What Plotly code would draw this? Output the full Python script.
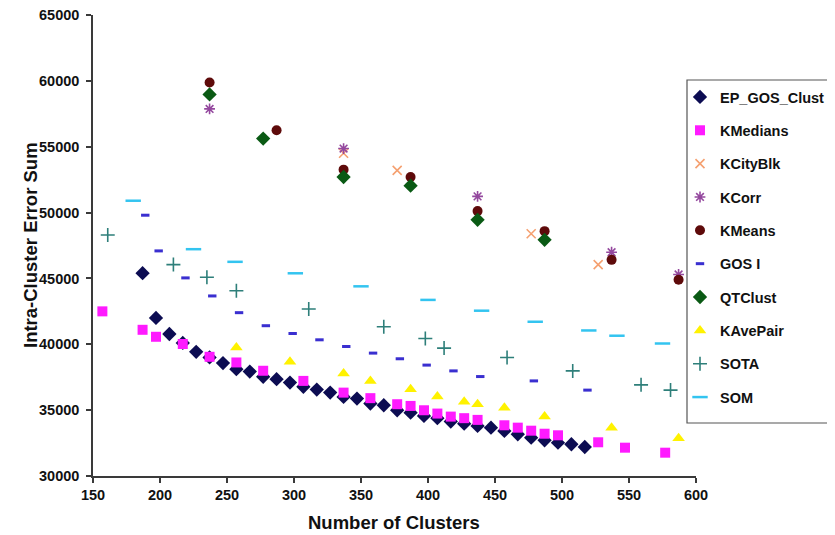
import plotly.graph_objects as go

# ---------------- data ----------------
ep_x = [187, 197, 207, 217, 227, 237, 247, 257, 267, 277, 287, 297, 307, 317, 327, 337, 347,
        357, 367, 377, 387, 397, 407, 417, 427, 437, 447, 457, 467, 477, 487, 497, 507, 517]
ep_y = [45400, 42000, 40780, 40100, 39430, 39000, 38570, 38110, 37930, 37530, 37350, 37090,
        36770, 36560, 36330, 36000, 35880, 35500, 35370, 34990, 34810, 34560, 34390, 34130,
        33970, 33800, 33670, 33420, 33170, 32910, 32710, 32530, 32410, 32200]

kmed_x = [157, 187, 197, 217, 237, 257, 277, 307, 337, 357, 377, 387, 397, 407, 417, 427,
          437, 457, 467, 477, 487, 497, 527, 547, 577]
kmed_y = [42500, 41100, 40570, 40020, 39050, 38620, 37990, 37220, 36330, 35910, 35450, 35320,
          34990, 34740, 34510, 34390, 34260, 33850, 33670, 33440, 33210, 33090, 32560, 32150, 31770]

kcity_x = [337, 377, 477, 527]
kcity_y = [54500, 53200, 48390, 46050]

kcorr_x = [237, 337, 437, 537, 587]
kcorr_y = [57870, 54860, 51230, 46990, 45300]

kmeans_x = [237, 287, 337, 387, 437, 487, 537, 587]
kmeans_y = [59880, 56250, 53260, 52700, 50110, 48590, 46410, 44900]

gos_x = [189, 199, 219, 239, 259, 279, 299, 319, 339, 359, 379, 399, 419, 439, 479, 519]
gos_y = [49800, 47090, 45040, 43670, 42400, 41410, 40820, 40340, 39830, 39330, 38900, 38420,
         37980, 37550, 37220, 36520]

qt_x = [237, 277, 337, 387, 437, 487]
qt_y = [58970, 55620, 52700, 52040, 49450, 47930]

kave_x = [257, 297, 337, 357, 387, 407, 427, 437, 457, 487, 537, 587]
kave_y = [39760, 38670, 37780, 37220, 36590, 36030, 35630, 35450, 35190, 34510, 33670, 32860]

sota_x = [161, 210, 235, 257, 311, 367, 398, 412, 459, 508, 559, 581]
sota_y = [48300, 46050, 45090, 44070, 42680, 41330, 40440, 39710, 39000, 37980, 36920, 36520]

som_x = [180, 225, 256, 301, 350, 400, 440, 480, 520, 541, 575]
som_y = [50900, 47220, 46260, 45390, 44400, 43370, 42550, 41710, 41050, 40650, 40060]

x_ticks = [150, 200, 250, 300, 350, 400, 450, 500, 550, 600]
y_ticks = [30000, 35000, 40000, 45000, 50000, 55000, 60000, 65000]

# ---------------- figure ----------------
FONT = "Arial, Liberation Sans, sans-serif"
fig = go.Figure()

def add(name, xs, ys, symbol, color, size, lw=0, lcolor=None):
    marker = dict(symbol=symbol, size=size, color=color)
    if lw:
        marker["line"] = dict(width=lw, color=lcolor or color)
    else:
        marker["line"] = dict(width=0)
    fig.add_trace(go.Scatter(x=xs, y=ys, mode="markers", name=name,
                             legendgroup=name, marker=marker))

add("EP_GOS_Clust", ep_x, ep_y, "diamond", "#0c0c52", 11)
add("KMedians", kmed_x, kmed_y, "square", "#ff1aff", 10)
add("KCityBlk", kcity_x, kcity_y, "x-thin-open", "#f5a070", 9, 1.6)
add("KCorr", kcorr_x, kcorr_y, "asterisk-open", "#94489e", 9, 1.6)
add("KMeans", kmeans_x, kmeans_y, "circle", "#5e0a0a", 10)
add("GOS I", gos_x, gos_y, "line-ew-open", "#3a2fd0", 6, 3)
add("QTClust", qt_x, qt_y, "diamond", "#0a5a14", 11)
add("KAvePair", kave_x, kave_y, "triangle-up", "#fff200", 11)
add("SOTA", sota_x, sota_y, "cross-thin-open", "#2e7f7a", 10, 1.6)
add("SOM", som_x, som_y, "line-ew-open", "#33c4f0", 11, 2.5)

axis_common = dict(
    showgrid=False, zeroline=False, showline=True, linecolor="#3a3a3a", linewidth=1.5,
    ticks="outside", ticklen=5, tickwidth=1.5, tickcolor="#3a3a3a",
    ticklabeloverflow="allow",
    tickfont=dict(family=FONT, size=14.5, color="#111111", weight="bold"),
)

fig.update_xaxes(range=[150, 600], tickvals=x_ticks, ticktext=[str(v) for v in x_ticks],
                 **axis_common)
fig.update_yaxes(range=[30000, 65000], tickvals=y_ticks, ticktext=[str(v) for v in y_ticks],
                 ticklabelstandoff=4, **axis_common)

# the page body adds an 8px offset; work in figure coordinates
OFF = 8
W, H = 835 - OFF, 535 - OFF
L, T = 93 - OFF, 15 - OFF
R = W - (696 - OFF)
B = H - (476 - OFF)
pw, ph = W - L - R, H - T - B

def px(xs):  # screen pixel -> paper x
    return (xs - OFF - L) / pw

def py(ys):  # screen pixel -> paper y
    return (H - B - (ys - OFF)) / ph

fig.update_layout(
    width=W, height=H,
    margin=dict(l=L, r=R, t=T, b=B, autoexpand=False),
    paper_bgcolor="white", plot_bgcolor="white",
    showlegend=True,
    legend=dict(
        x=px(680), y=py(81), xanchor="left", yanchor="top",
        bgcolor="rgba(0,0,0,0)", borderwidth=0,
        font=dict(family=FONT, size=14.5, color="#111111", weight="bold"),
        tracegroupgap=11.5, itemwidth=30,
    ),
    shapes=[dict(type="rect", xref="paper", yref="paper",
                 x0=px(687), x1=px(838), y0=py(423), y1=py(80),
                 line=dict(color="#555555", width=1.2), fillcolor="white", layer="below")],
    annotations=[
        dict(text="<b>Number of Clusters</b>", xref="paper", yref="paper",
             x=px(394), y=py(522), xanchor="center", yanchor="middle", showarrow=False,
             font=dict(family=FONT, size=18.5, color="#111111")),
        dict(text="<b>Intra-Cluster Error Sum</b>", xref="paper", yref="paper",
             x=px(30), y=py(245), xanchor="center", yanchor="middle", showarrow=False,
             textangle=-90, font=dict(family=FONT, size=18.5, color="#111111")),
    ],
)

fig.write_html("out.html")
